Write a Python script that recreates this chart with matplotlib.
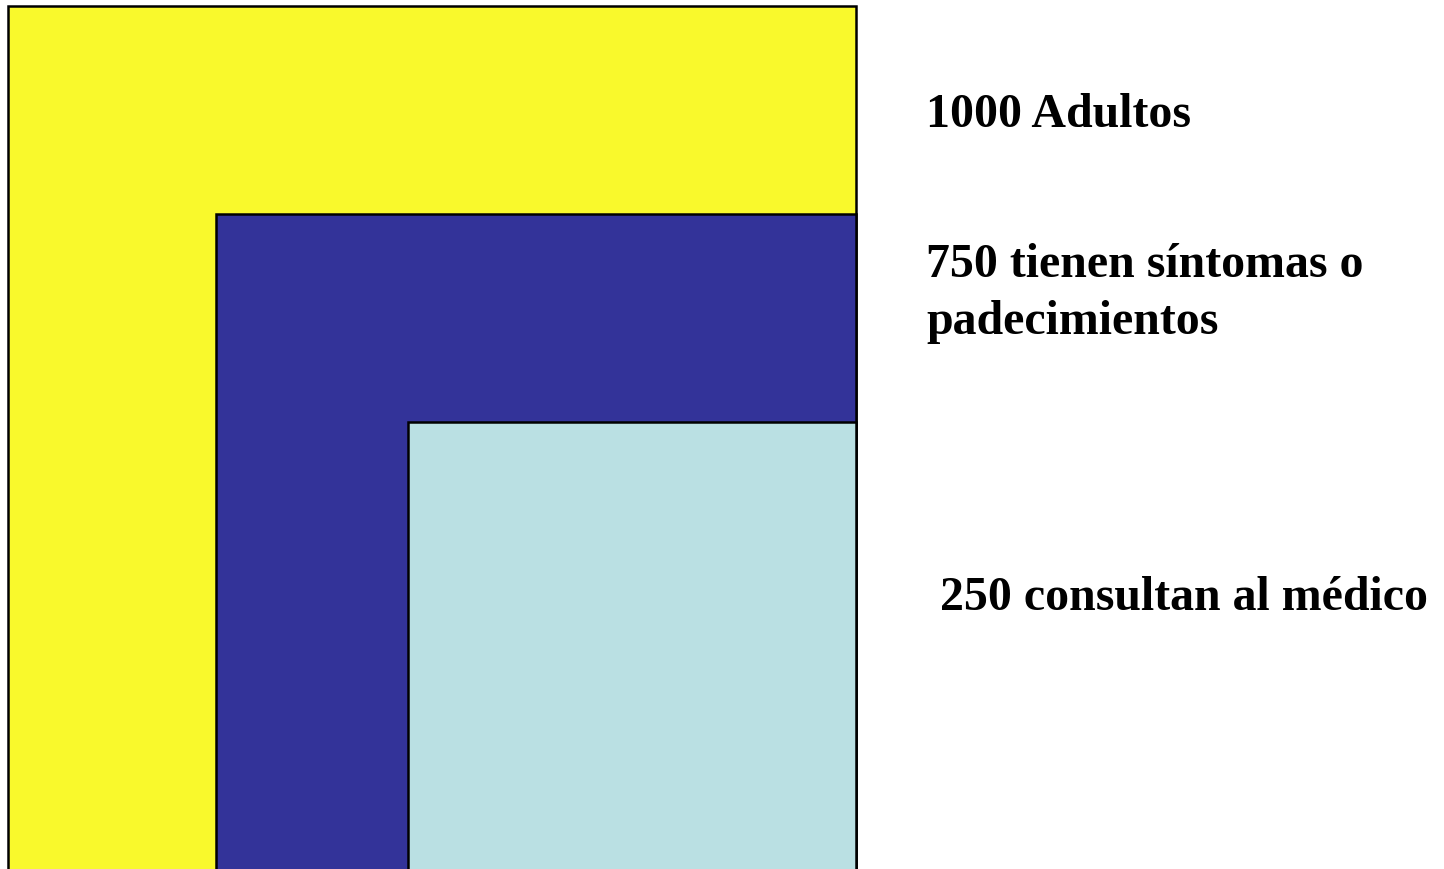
import matplotlib
matplotlib.use("Agg")
import matplotlib.pyplot as plt
from matplotlib.patches import Rectangle

# Data
groups = ["1000 Adultos", "750 tienen síntomas o\npadecimientos", "250 consultan al médico"]
counts = [1000, 750, 250]
colors = ["#F9F92C", "#333399", "#BAE0E3"]

# Layout (pixel coordinates of nested boxes: left, top; right/bottom shared)
box_left = [8, 216, 408]
box_top = [7, 215, 423]
box_right = 856
box_bottom = 872
label_x = [926, 926, 940]
label_y = [127, 277, 610]
line_step = 57

W, H = 1444, 870
fig = plt.figure(figsize=(W / 100, H / 100), dpi=100)
ax = fig.add_axes([0, 0, 1, 1])
ax.set_xlim(0, W)
ax.set_ylim(H, 0)
ax.axis("off")

for l, t, c in zip(box_left, box_top, colors):
    ax.add_patch(Rectangle((l, t), box_right - l, box_bottom - t,
                           facecolor=c, edgecolor="black", linewidth=1.8))

for g, x, y in zip(groups, label_x, label_y):
    for i, line in enumerate(g.split("\n")):
        ax.text(x, y + i * line_step, line, fontfamily="Liberation Serif",
                fontweight="bold", fontsize=34.5, va="baseline", ha="left")

fig.savefig("out.png", dpi=100)
